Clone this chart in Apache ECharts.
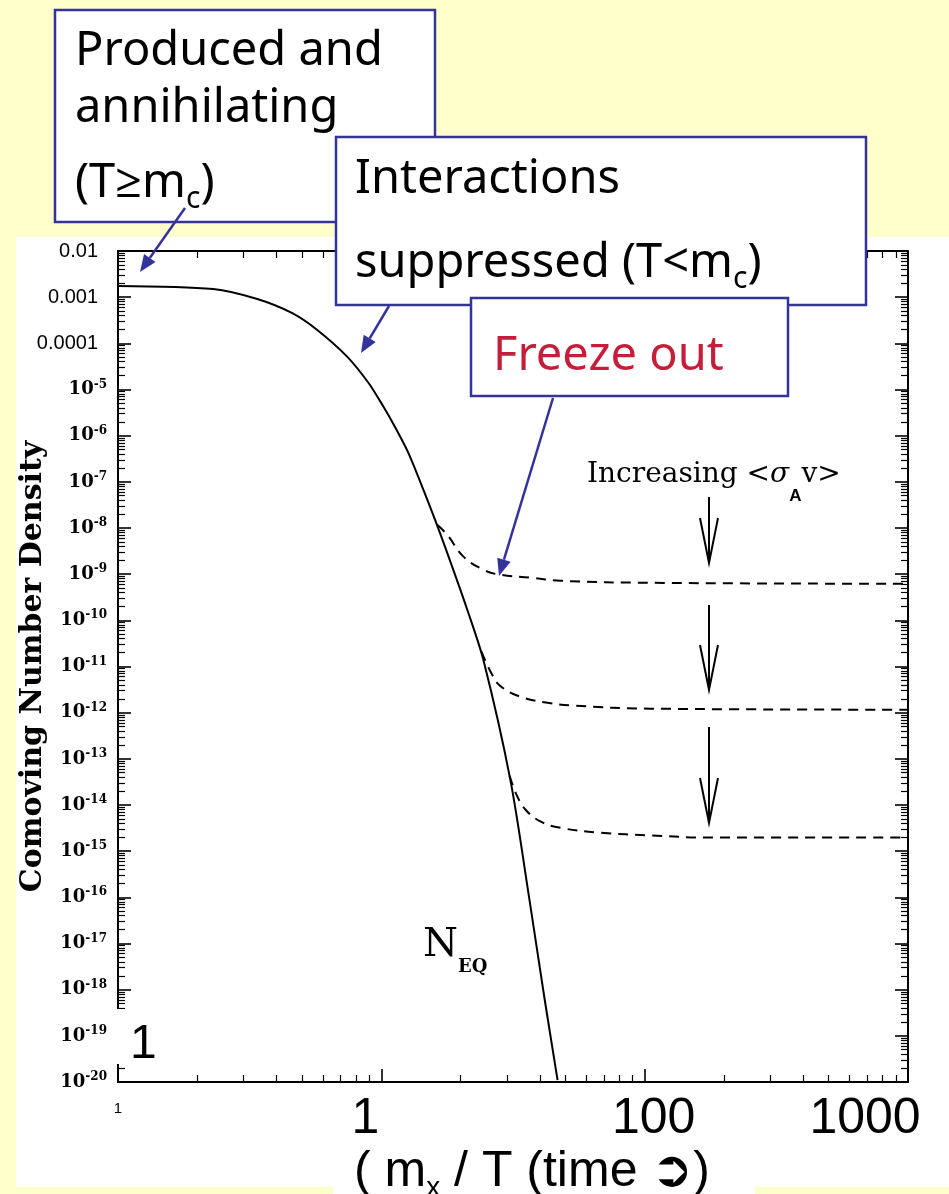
<!DOCTYPE html>
<html><head><meta charset="utf-8">
<script src="https://cdn.jsdelivr.net/npm/echarts@6/dist/echarts.min.js"></script>
<style>html,body{margin:0;padding:0;background:#FFFFCC}#c{width:949px;height:1194px}</style>
</head><body><div id="c"></div>
<script>
// ---------------- data ----------------
const neqX = [1.0, 2.30, 3.38, 4.59, 5.71, 7.43, 8.93, 10.1, 11.3, 12.6, 13.8, 16.0, 18.3, 21.2, 24.4, 30.9, 36.5, 41.7, 46.7];
const neqY = [1.75e-3, 1.50e-3, 9.1e-4, 4.5e-4, 1.95e-4, 5.1e-5, 1.4e-5, 4.6e-6, 1.5e-6, 4.5e-7, 1.3e-7, 1.5e-8, 1.85e-9, 1.7e-10, 1.4e-11, 3.5e-14, 9e-17, 6.2e-19, 1.1e-20];

const freeze1X = [16.3, 17.8, 20.5, 24.4, 28.3, 36.9, 47.9, 105, 1000];
const freeze1Y = [1.17e-8, 7.1e-9, 2.4e-9, 1.25e-9, 9.7e-10, 8.4e-10, 7.2e-10, 6.5e-10, 6.2e-10];

const freeze2X = [24.0, 26.0, 28.3, 33.8, 42.8, 53.7, 105, 1000];
const freeze2Y = [2.1e-11, 7.7e-12, 3.8e-12, 2.2e-12, 1.64e-12, 1.42e-12, 1.22e-12, 1.16e-12];

const freeze3X = [30.7, 32.6, 35.3, 40.2, 47.9, 68.0, 105, 175, 1000];
const freeze3Y = [4.3e-14, 1.68e-14, 7.9e-15, 4.4e-15, 3.2e-15, 2.5e-15, 2.2e-15, 1.97e-15, 1.97e-15];

const xTickText = ['1', '1', '100', '1000'];            // labels at 1, 10, 100, 1000
const yTickText = ['10⁻²⁰', '10⁻¹⁹', '10⁻¹⁸', '10⁻¹⁷', '10⁻¹⁶', '10⁻¹⁵', '10⁻¹⁴', '10⁻¹³',
  '10⁻¹²', '10⁻¹¹', '10⁻¹⁰', '10⁻⁹', '10⁻⁸', '10⁻⁷', '10⁻⁶', '10⁻⁵', '0.0001', '0.001', '0.01'];
// ---------------------------------------------------------------

const zip = (xs, ys) => xs.map((x, i) => [x, ys[i]]);
const BLUE = '#333399';
const SANS = '"Liberation Sans", Arial, sans-serif';
const SERIF = '"DejaVu Serif", serif';
const NOTO = '"Noto Sans", "Open Sans", sans-serif';
const SUP = { '⁻': '-', '⁰': '0', '¹': '1', '²': '2', '³': '3', '⁴': '4', '⁵': '5', '⁶': '6', '⁷': '7', '⁸': '8', '⁹': '9' };

function blueArrow(x1, y1, x2, y2) {
  const a = Math.atan2(y2 - y1, x2 - x1), L = 17, W = 7;
  const bx = x2 - L * Math.cos(a), by = y2 - L * Math.sin(a);
  const px = -Math.sin(a) * W, py = Math.cos(a) * W;
  return [
    { type: 'line', z: 110, shape: { x1: x1, y1: y1, x2: bx, y2: by }, style: { stroke: BLUE, lineWidth: 2.5 } },
    { type: 'polygon', z: 110, shape: { points: [[x2, y2], [bx + px, by + py], [bx - px, by - py]] }, style: { fill: BLUE } }
  ];
}
function blackArrow(x, yTop, yHead, yTip) {
  return [
    { type: 'line', z: 60, shape: { x1: x, y1: yTop, x2: x, y2: yTip }, style: { stroke: '#000', lineWidth: 2 } },
    { type: 'polyline', z: 60, shape: { points: [[x - 9, yHead], [x, yTip], [x + 9, yHead]] }, style: { stroke: '#000', lineWidth: 2, fill: null } }
  ];
}
function box(x, y, w, h, z) {
  return { type: 'rect', z: z, shape: { x: x, y: y, width: w, height: h }, style: { fill: '#fff', stroke: BLUE, lineWidth: 2.5 } };
}
function txt(x, y, text, extra, z) {
  return { type: 'text', z: z || 120, x: x, y: y, style: Object.assign({ text: text, fill: '#000', verticalAlign: 'middle', align: 'left' }, extra) };
}
const subRich = (main, sub) => ({
  m: Object.assign({ lineHeight: 60, verticalAlign: 'middle' }, main),
  c: Object.assign({ verticalAlign: 'bottom' }, sub)
});

const logIdx = v => Math.round(Math.log10(v));

const axisCommon = {
  type: 'log', logBase: 10, interval: 1,
  axisLine: { show: true, onZero: false, lineStyle: { color: '#000', width: 2 } },
  axisTick: { show: true, inside: true, length: 13, lineStyle: { color: '#000', width: 1.6 } },
  minorTick: { show: true, splitNumber: 9, length: 7, lineStyle: { color: '#000', width: 1.2 } },
  splitLine: { show: false }, minorSplitLine: { show: false }
};

const option = {
  backgroundColor: '#FFFFCC',
  animation: false,
  grid: { left: 118, right: 41, top: 251, bottom: 112, containLabel: false, outerBoundsMode: 'none' },
  xAxis: [
    Object.assign({}, axisCommon, {
      position: 'bottom', min: 1, max: 1000,
      axisLabel: {
        show: true, margin: 12, color: '#000', showMinLabel: true, showMaxLabel: true,
        formatter: v => {
          const i = logIdx(v);
          return '{' + ['s', 'b1', 'b2', 'b3'][i] + '|' + xTickText[i] + '}';
        },
        rich: {
          s: { fontSize: 15, fontFamily: SANS, lineHeight: 30, color: '#000' },
          b1: { fontSize: 50, fontFamily: SANS, lineHeight: 50, color: '#000', padding: [0, 32, 0, 0] },
          b2: { fontSize: 50, fontFamily: SANS, lineHeight: 50, color: '#000', padding: [0, 0, 0, 18] },
          b3: { fontSize: 50, fontFamily: SANS, lineHeight: 50, color: '#000', padding: [0, 86, 0, 0] }
        }
      },
      name: '{m|( m}{c|x}{m| / T (time ➲)}',
      nameLocation: 'middle', nameGap: 60, nameMoveOverlap: false,
      nameTextStyle: {
        padding: [0, 0, 0, 38],
        rich: subRich({ fontSize: 50, fontFamily: SANS, color: '#000' }, { fontSize: 28, fontFamily: SANS, color: '#000', lineHeight: 36 })
      }
    }),
    Object.assign({}, axisCommon, { position: 'top', min: 1, max: 1000, axisLabel: { show: false } })
  ],
  yAxis: [
    Object.assign({}, axisCommon, {
      position: 'left', min: 1e-20, max: 1e-2,
      axisLabel: {
        show: true, margin: 11, color: '#000', showMinLabel: true, showMaxLabel: true,
        formatter: v => {
          const e = logIdx(v);
          const t = yTickText[e + 20];
          if (e >= -4) return '{s|' + t + '}';
          const base = t.slice(0, 2);
          const exp = Array.from(t.slice(2)).map(ch => SUP[ch] || ch).join('');
          return '{b|' + base + '}{e|' + exp + '}';
        },
        rich: {
          s: { fontSize: 20, fontFamily: SANS, color: '#000', padding: [0, 9, 0, 0] },
          b: { fontSize: 18, fontFamily: SERIF, fontWeight: 'bold', color: '#000', lineHeight: 22, verticalAlign: 'middle' },
          e: { fontSize: 12, fontFamily: SERIF, fontWeight: 'bold', color: '#000', lineHeight: 16, verticalAlign: 'top' }
        }
      },
      name: 'Comoving Number Density',
      nameLocation: 'middle', nameGap: 70, nameMoveOverlap: false,
      nameTextStyle: { fontSize: 30, fontFamily: SERIF, fontWeight: 'bold', color: '#000' }
    }),
    Object.assign({}, axisCommon, { position: 'right', min: 1e-20, max: 1e-2, axisLabel: { show: false } })
  ],
  series: [
    { type: 'line', name: 'NEQ', data: zip(neqX, neqY), showSymbol: false, smooth: 0.3, z: 3,
      lineStyle: { color: '#000', width: 2 } },
    { type: 'line', data: zip(freeze1X, freeze1Y), showSymbol: false, smooth: 0.4, z: 4,
      lineStyle: { color: '#000', width: 2, type: [10, 7] } },
    { type: 'line', data: zip(freeze2X, freeze2Y), showSymbol: false, smooth: 0.4, z: 4,
      lineStyle: { color: '#000', width: 2, type: [10, 7] } },
    { type: 'line', data: zip(freeze3X, freeze3Y), showSymbol: false, smooth: 0.4, z: 4,
      lineStyle: { color: '#000', width: 2, type: [10, 7] } }
  ],
  graphic: {
    elements: [
      { type: 'rect', z: -10, shape: { x: 16, y: 237, width: 933, height: 950 }, style: { fill: '#fff' } },
      { type: 'rect', z: -10, shape: { x: 333, y: 1150, width: 422, height: 44 }, style: { fill: '#fff' } },
      { type: 'rect', z: 50, shape: { x: 113, y: 1009, width: 52, height: 55 }, style: { fill: '#fff' } },
      txt(130, 1045, '1', { font: '48px ' + SANS }, 51),
      box(55, 10, 380, 212, 100),
      txt(75, 52, 'Produced and', { font: '47px ' + NOTO }, 105),
      txt(75, 109, 'annihilating', { font: '47px ' + NOTO }, 105),
      txt(75, 184, '{m|(T≥m}{c|c}{m|)}', { rich: subRich({ fontSize: 47, fontFamily: NOTO, fill: '#000' }, { fontSize: 30, fontFamily: NOTO, fill: '#000', lineHeight: 27 }) }, 105),
      box(336, 137, 530, 168, 106),
      txt(355, 180, 'Interactions', { font: '47px ' + NOTO }, 107),
      txt(355, 264, '{m|suppressed (T<m}{c|c}{m|)}', { rich: subRich({ fontSize: 47, fontFamily: NOTO, fill: '#000' }, { fontSize: 30, fontFamily: NOTO, fill: '#000', lineHeight: 27 }) }, 107),
      box(471, 298, 317, 98, 108),
      txt(493, 357, 'Freeze out', { font: '47px ' + NOTO, fill: '#C41E3A' }, 109),
      ...blueArrow(185, 208, 140, 272),
      ...blueArrow(389, 306, 361, 353),
      ...blueArrow(553, 398, 499, 576),
      txt(587, 475, '{m|Increasing <}{i|σ}{c|A}{m|v>}', { rich: {
        m: { fontSize: 28, fontFamily: SERIF, fill: '#000', lineHeight: 60, verticalAlign: 'middle' },
        i: { fontSize: 28, fontFamily: SERIF, fontStyle: 'italic', fill: '#000', lineHeight: 60, verticalAlign: 'middle' },
        c: { fontSize: 17, fontFamily: SANS, fontWeight: 'bold', fill: '#000', lineHeight: 19, verticalAlign: 'bottom' }
      } }, 60),
      ...blackArrow(709, 497, 518, 563),
      ...blackArrow(709, 605, 645, 690),
      ...blackArrow(709, 727, 778, 823),
      txt(423, 946, '{m|N}{c|EQ}', { rich: {
        m: { fontSize: 40, fontFamily: SERIF, fill: '#000', lineHeight: 60, verticalAlign: 'middle' },
        c: { fontSize: 18, fontFamily: SERIF, fontWeight: 'bold', fill: '#000', lineHeight: 15, verticalAlign: 'bottom' }
      } }, 60)
    ]
  }
};

const chart = echarts.init(document.getElementById('c'), null, { renderer: 'canvas' });
chart.setOption(option);
</script></body></html>
